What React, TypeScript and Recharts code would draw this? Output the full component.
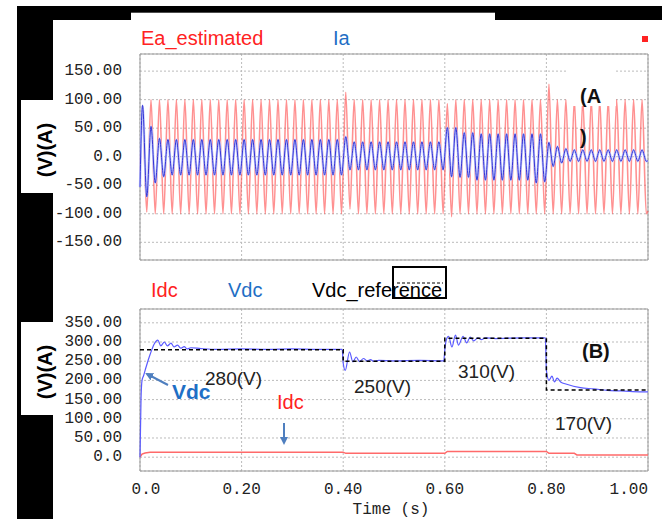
import React from 'react';
import { LineChart, Line, XAxis, YAxis, CartesianGrid, ReferenceArea } from 'recharts';

// 60 Hz waveforms, one peak and one trough per cycle
const cycles = 60;
const eaStart = -40;
const iaStart = -53;
const eaEnd = -95;
const iaEnd = -7;

const eaPeaks = [
  80, 100, 100, 100, 100, 100, 100, 100, 100, 100, 100, 100, 100, 100, 100, 100, 100, 100, 100, 100,
  100, 100, 100, 100, 113, 100, 100, 100, 100, 100, 100, 100, 100, 100, 100, 100, 93, 100, 100, 100,
  100, 100, 100, 100, 100, 100, 100, 100, 127, 100, 100, 100, 100, 100, 100, 100, 100, 100, 100, 100,
];
const eaTroughs = [
  -97, -100, -100, -100, -100, -100, -100, -100, -100, -100, -100, -100, -100, -100, -100, -100, -100, -100, -100, -100,
  -100, -100, -100, -100, -92, -100, -100, -100, -100, -100, -100, -100, -100, -100, -100, -100, -105, -100, -100, -100,
  -100, -100, -100, -100, -100, -100, -100, -100, -100, -100, -100, -100, -100, -100, -100, -100, -100, -100, -100, -100,
];
const iaPeaks = [
  90, 53, 32, 30, 30, 30, 30, 30, 30, 30, 30, 30, 30, 30, 30, 30, 30, 30, 30, 30,
  30, 30, 30, 30, 35, 26, 26, 26, 26, 26, 26, 26, 26, 26, 26, 26, 51, 51, 42, 42,
  40, 40, 40, 40, 40, 40, 40, 40, 25, 18, 14, 12, 12, 12, 12, 12, 12, 12, 12, 12,
];
const iaTroughs = [
  -70, -46, -35, -32, -32, -32, -32, -32, -32, -32, -32, -32, -32, -32, -32, -32, -32, -32, -32, -32,
  -32, -32, -32, -32, -23, -23, -23, -23, -23, -23, -23, -23, -23, -23, -23, -23, -35, -36, -36, -41,
  -41, -41, -41, -41, -41, -41, -46, -44, -17, -11, -8, -8, -8, -8, -8, -8, -8, -8, -8, -8,
];

const vdcTime = [
  0, 0.002, 0.004, 0.007, 0.012, 0.02, 0.028, 0.035, 0.041, 0.048, 0.054, 0.061, 0.067, 0.074, 0.08, 0.087, 0.093, 0.1,
  0.12, 0.15, 0.2, 0.25, 0.3, 0.35, 0.398,
  0.4, 0.404, 0.4125, 0.419, 0.4256, 0.432, 0.44, 0.447, 0.454, 0.46, 0.47, 0.5, 0.55, 0.598,
  0.6, 0.604, 0.6075, 0.614, 0.621, 0.627, 0.636, 0.643, 0.65, 0.657, 0.665, 0.672, 0.68, 0.7, 0.75, 0.798,
  0.8, 0.805, 0.811, 0.816, 0.821, 0.828, 0.84, 0.867, 0.893, 0.92, 0.946, 0.97, 1.0,
];
const vdcValue = [
  0, 150, 200, 212, 235, 268, 295, 305, 290, 300, 290, 297, 287, 292, 284, 288, 282, 285,
  283, 281, 282, 281, 282, 281, 281,
  245, 226, 274, 248, 261, 249, 257, 251, 254, 250, 252, 251, 252, 251,
  280, 310, 315, 287, 318, 292, 315, 298, 313, 303, 311, 306, 311, 309, 311, 311,
  226, 200, 211, 196, 206, 196, 190, 181, 178, 174, 172.5, 171, 170,
];
const vrefTime = [0, 0.4, 0.6, 0.8, 1.0];
const vrefValue = [280, 250, 310, 175, 175];
const idcTime = [0, 0.004, 0.01, 0.02, 0.4, 0.405, 0.6, 0.605, 0.8, 0.805, 0.855, 0.86, 1.0];
const idcValue = [0, 8, 11, 13, 13, 10, 10, 15, 15, 10, 10, 6, 6];

const topTicks = [-150, -100, -50, 0, 50, 100, 150];
const topTickLabels = ['-150.00', '-100.00', '-50.00', '0.0', '50.00', '100.00', '150.00'];
const bottomTicks = [0, 50, 100, 150, 200, 250, 300, 350];
const bottomTickLabels = ['0.0', '50.00', '100.00', '150.00', '200.00', '250.00', '300.00', '350.00'];
const timeTicks = [0, 0.2, 0.4, 0.6, 0.8, 1.0];
const timeTickLabels = ['0.0', '0.20', '0.40', '0.60', '0.80', '1.00'];

const acData: { t: number; ea: number; ia: number }[] = [{ t: 0, ea: eaStart, ia: iaStart }];
for (let k = 0; k < cycles; k++) {
  acData.push({ t: (k + 0.3) / cycles, ea: eaPeaks[k], ia: iaPeaks[k] });
  acData.push({ t: (k + 0.8) / cycles, ea: eaTroughs[k], ia: iaTroughs[k] });
}
acData.push({ t: 1, ea: eaEnd, ia: iaEnd });

const toRows = (ts: number[], vs: number[]) => ts.map((t, i) => ({ t, v: vs[i] }));
const vdcData = toRows(vdcTime, vdcValue);
const vrefData = toRows(vrefTime, vrefValue);
const idcData = toRows(idcTime, idcValue);

const mono = "'Liberation Mono', monospace";
const sans = "'Liberation Sans', Arial, sans-serif";

const makeYTick = (ticks: number[], labels: string[]) => (props: any) => {
  const { y, payload } = props;
  const i = ticks.indexOf(payload.value);
  return (
    <text x={122} y={y} textAnchor="end" dominantBaseline="central" fontFamily={mono} fontSize={16} fill="#222">
      {labels[i]}
    </text>
  );
};

const TimeTick = (props: any) => {
  const { x, y, payload } = props;
  const i = timeTicks.indexOf(payload.value);
  const last = i === timeTicks.length - 1;
  return (
    <text
      x={i === 0 ? x + 6 : x}
      y={y + 11}
      textAnchor={last ? 'end' : 'middle'}
      dominantBaseline="central"
      fontFamily={mono}
      fontSize={16}
      fill="#222"
    >
      {timeTickLabels[i]}
    </text>
  );
};

const TOP_DOMAIN: [number, number] = [-181, 180];
const BOT_DOMAIN: [number, number] = [-36, 386];

export default function App() {
  return (
    <div style={{ position: 'absolute', left: 0, top: 0, width: 662, height: 519, background: '#fff' }}>
      <svg width={662} height={519} style={{ position: 'absolute', left: 0, top: 0 }}>
        <rect x={17} y={6} width={645} height={14} fill="#000" />
        <rect x={131} y={12.7} width={364} height={8} fill="#fff" />
        <rect x={17} y={6} width={36} height={513} fill="#000" />
        <rect x={21} y={100} width={32} height={93} fill="#fff" />
        <rect x={21} y={322} width={32} height={93} fill="#fff" />
      </svg>

      <div style={{ position: 'absolute', left: 0, top: 0 }}>
        <LineChart width={662} height={262} margin={{ top: 54, right: 14, bottom: 2, left: 0 }}>
          <CartesianGrid stroke="#bbb" strokeDasharray="2 2" />
          <XAxis type="number" dataKey="t" domain={[0, 1]} ticks={timeTicks} hide />
          <YAxis
            type="number"
            domain={TOP_DOMAIN}
            ticks={topTicks}
            interval={0}
            width={140}
            axisLine={false}
            tickLine={false}
            tick={makeYTick(topTicks, topTickLabels)}
            allowDataOverflow
          />
          <Line data={acData} dataKey="ea" type="monotone" stroke="#ff4848" strokeOpacity={0.6} strokeWidth={1.6} dot={false} isAnimationActive={false} />
          <Line data={acData} dataKey="ia" type="monotone" stroke="#c4caff" strokeWidth={2.4} dot={false} isAnimationActive={false} />
          <Line data={acData} dataKey="ia" type="monotone" stroke="#3434d4" strokeWidth={1} dot={false} isAnimationActive={false} />
          <ReferenceArea x1={0} x2={1} y1={TOP_DOMAIN[0]} y2={TOP_DOMAIN[1]} fill="none" stroke="#999" strokeWidth={1} ifOverflow="visible" />
        </LineChart>
      </div>

      <div style={{ position: 'absolute', left: 0, top: 262 }}>
        <LineChart width={662} height={257} margin={{ top: 47, right: 14, bottom: 0, left: 0 }}>
          <CartesianGrid stroke="#bbb" strokeDasharray="2 2" />
          <XAxis
            type="number"
            dataKey="t"
            domain={[0, 1]}
            ticks={timeTicks}
            interval={0}
            height={48}
            axisLine={false}
            tickLine={false}
            tick={TimeTick}
          />
          <YAxis
            type="number"
            domain={BOT_DOMAIN}
            ticks={bottomTicks}
            interval={0}
            width={140}
            axisLine={false}
            tickLine={false}
            tick={makeYTick(bottomTicks, bottomTickLabels)}
            allowDataOverflow
          />
          <Line data={idcData} dataKey="v" type="linear" stroke="#ff6a6a" strokeWidth={1.5} dot={false} isAnimationActive={false} />
          <Line data={vdcData} dataKey="v" type="monotone" stroke="#5b5bff" strokeWidth={1.2} dot={false} isAnimationActive={false} />
          <Line data={vrefData} dataKey="v" type="stepAfter" stroke="#000" strokeDasharray="4 3" strokeWidth={1.5} dot={false} isAnimationActive={false} />
          <ReferenceArea x1={0} x2={1} y1={BOT_DOMAIN[0]} y2={BOT_DOMAIN[1]} fill="none" stroke="#999" strokeWidth={1} ifOverflow="visible" />
        </LineChart>
      </div>

      <svg width={662} height={519} style={{ position: 'absolute', left: 0, top: 0, pointerEvents: 'none' }}>
        <defs>
          <marker id="arr" markerWidth={8} markerHeight={8} refX={6} refY={4} orient="auto" markerUnits="userSpaceOnUse">
            <path d="M0,0 L8,4 L0,8 z" fill="#4f7fbf" />
          </marker>
        </defs>
        <g fontFamily={sans} fontSize={20} dominantBaseline="central">
          <text x={141} y={38} fill="#f22">Ea_estimated</text>
          <text x={333} y={38} fill="#1f6fc5">Ia</text>
          <rect x={642} y={36} width={6} height={6} fill="#f22" />

          <text x={151} y={290} fill="#f22">Idc</text>
          <text x={228} y={290} fill="#1f6fc5">Vdc</text>
          <text x={312} y={290} fill="#000">Vdc_reference</text>
          <rect x={393} y={267} width={53} height={31} fill="none" stroke="#000" strokeWidth={2} />
          <line x1={397} y1={283} x2={443} y2={283} stroke="#000" strokeDasharray="3 2" strokeWidth={1.2} />

          <text transform="translate(45,150) rotate(-90)" textAnchor="middle" fontWeight="bold" fill="#000">(V)(A)</text>
          <text transform="translate(45,372) rotate(-90)" textAnchor="middle" fontWeight="bold" fill="#000">(V)(A)</text>

          <rect x={568} y={62} width={48} height={44} fill="#fff" />
          <text x={580} y={96} fontWeight="bold" fill="#111">(A</text>
          <text x={580} y={137} fontWeight="bold" fill="#111">)</text>

          <text x={205} y={378} fontSize={19} fill="#222">280(V)</text>
          <text x={354} y={386} fontSize={19} fill="#222">250(V)</text>
          <text x={458} y={371} fontSize={19} fill="#222">310(V)</text>
          <text x={555} y={423} fontSize={19} fill="#222">170(V)</text>
          <text x={582} y={351} fontWeight="bold" fill="#111">(B)</text>

          <text x={172} y={391} fontSize={21} fontWeight={600} fill="#1f6fc5">Vdc</text>
          <line x1={168} y1={385} x2={147} y2={374} stroke="#4f7fbf" strokeWidth={2} markerEnd="url(#arr)" />
          <text x={277} y={402} fontSize={20} fill="#f22">Idc</text>
          <line x1={284} y1={423} x2={284} y2={443} stroke="#4f7fbf" strokeWidth={2} markerEnd="url(#arr)" />
        </g>
        <text x={391} y={510} textAnchor="middle" dominantBaseline="central" fontFamily={mono} fontSize={16} fill="#222">
          Time (s)
        </text>
      </svg>
    </div>
  );
}
